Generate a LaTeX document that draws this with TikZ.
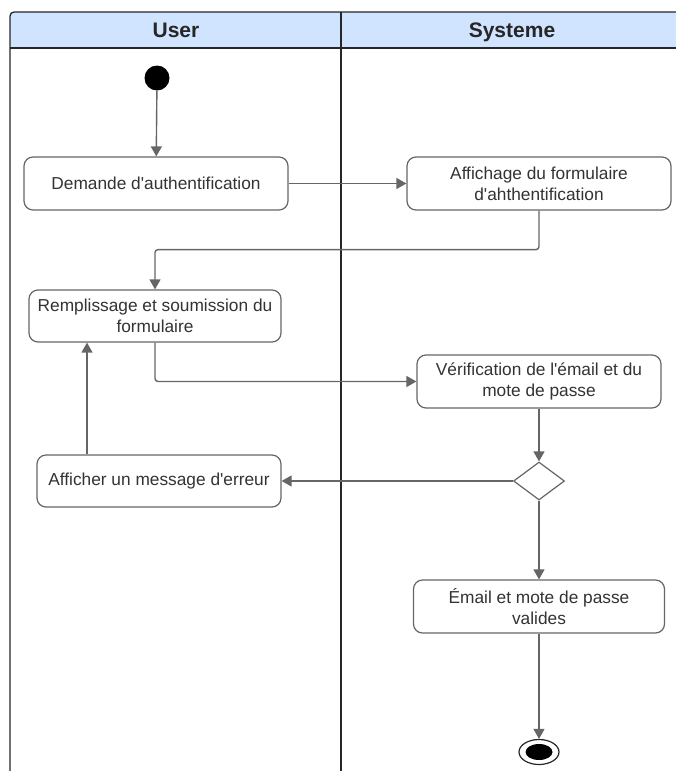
\documentclass[tikz,border=0pt]{standalone}
\usepackage{fontspec}
\setmainfont{Liberation Sans}[Ligatures=TeXOff]
\usetikzlibrary{arrows.meta,shapes.geometric}
\definecolor{hdr}{HTML}{D0E3FF}
\definecolor{ln}{HTML}{666666}
\definecolor{txt}{HTML}{333333}
\begin{document}
\begin{tikzpicture}[x=1pt,y=-1pt,
  act/.style={draw=ln, line width=1.2pt, rounded corners=9pt, fill=white, text=txt,
    font=\fontsize{17.3}{21}\selectfont, align=center, inner sep=0pt},
  flow/.style={draw=ln, line width=1.4pt, -{Triangle[length=10pt,width=11pt]}, rounded corners=3pt},
  lane/.style={draw=black!85, line width=1.3pt},
  head/.style={font=\fontsize{21}{24}\bfseries\selectfont, text=black!85, anchor=base}]
\useasboundingbox (0,0) rectangle (675,771);
% swimlanes
\fill[hdr, rounded corners=4pt] (10,48) -- (10,12) -- (677,12) -- (677,48) -- cycle;
\draw[lane, rounded corners=4pt] (10,775) -- (10,12) -- (677,12);
\draw[lane] (10,48) -- (677,48);
\draw[lane] (341,12) -- (341,775);
\node[head] (hu) at (176,37) {User};
\node[head] (hs) at (512,37) {Systeme};
% nodes
\node[circle, fill=black, minimum size=25pt, inner sep=0pt] (start) at (157,78) {};
\node[act, minimum width=264pt, minimum height=53pt] (dem) at (156,183.5) {Demande d'authentification};
\node[act, minimum width=264pt, minimum height=53pt] (aff) at (539,183.5) {Affichage du formulaire\\d'ahthentification};
\node[act, minimum width=252pt, minimum height=52pt] (rem) at (155,316) {Remplissage et soumission du\\formulaire};
\node[act, minimum width=244pt, minimum height=53pt] (ver) at (539,381.5) {Vérification de l'émail et du\\mote de passe};
\node[diamond, draw=ln, line width=1.2pt, fill=white, minimum width=51pt, minimum height=38pt, inner sep=0pt] (dec) at (539,481) {};
\node[act, minimum width=244pt, minimum height=52pt] (err) at (159,481) {Afficher un message d'erreur};
\node[act, minimum width=251pt, minimum height=53pt] (ema) at (539,606.5) {Émail et mote de passe\\valides};
\node[ellipse, draw=black!85, line width=1.2pt, fill=white, minimum width=40pt, minimum height=25pt, inner sep=0pt] (fin) at (539,752) {};
\node[ellipse, fill=black, minimum width=27pt, minimum height=16pt, inner sep=0pt] (finin) at (539,752) {};
% connectors
\draw[flow] (start) -- (dem);
\draw[flow] (dem) -- (aff);
\draw[flow] (aff.south) -- ++(0,39) -| (rem.north);
\draw[flow] (rem.south) |- (ver.west);
\draw[flow] (ver) -- (dec);
\draw[flow] (dec) -- (err);
\draw[flow] ([xshift=-72pt]err.north) -- ([xshift=-68pt]rem.south);
\draw[flow] (dec) -- (ema);
\draw[flow] (ema) -- (fin);
\end{tikzpicture}
\end{document}
